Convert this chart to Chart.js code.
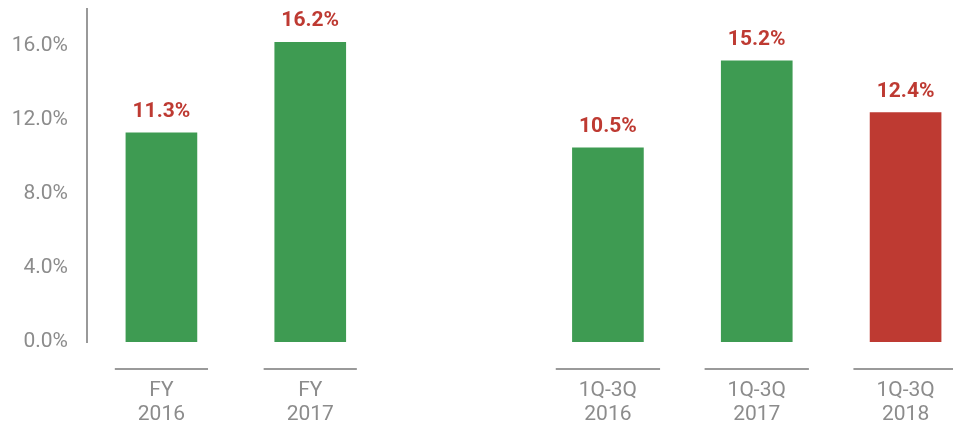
<!DOCTYPE html>
<html>
<head>
<meta charset="utf-8">
<script src="https://cdn.jsdelivr.net/npm/chart.js@4"></script>
<style>
  html, body { margin: 0; padding: 0; background: #fff; overflow: hidden; }
  #wrap { width: 980px; height: 422px; }
</style>
</head>
<body>
<div id="wrap"><canvas id="chart" width="980" height="422"></canvas></div>
<script>
// Categories (blank slot is the gap between the two groups)
const categories = [['FY', '2016'], ['FY', '2017'], '', ['1Q-3Q', '2016'], ['1Q-3Q', '2017'], ['1Q-3Q', '2018']];
const growth = [11.3, 16.2, null, 10.5, 15.2, 12.4];
const yTicks = [0, 4, 8, 12, 16];

const GREEN = '#3e9b52';
const RED = '#be3a32';
const GRAY = '#8c8c8c';
const FONT = 'Roboto, "Liberation Sans", sans-serif';

// Highlight the latest period in red
const barColors = growth.map((v, i) => i === growth.length - 1 ? RED : GREEN);

// Draws the value labels above the bars and the short rules above the category labels
const annotations = {
    id: 'annotations',
    afterDatasetsDraw(chart) {
        const ctx = chart.ctx;
        const meta = chart.getDatasetMeta(0);
        ctx.save();
        ctx.font = 'bold 21px ' + FONT;
        ctx.fillStyle = RED;
        ctx.textAlign = 'center';
        ctx.textBaseline = 'alphabetic';
        meta.data.forEach((bar, i) => {
            if (growth[i] === null) return;
            ctx.fillText(growth[i].toFixed(1) + '%', bar.x, bar.y - 16);
        });

        const xScale = chart.scales.x;
        ctx.font = '21px ' + FONT;
        ctx.strokeStyle = '#9a9a9a';
        ctx.lineWidth = 2;
        categories.forEach((label, i) => {
            if (!label) return;
            const w = Math.max(...label.map(s => ctx.measureText(s).width)) + 46;
            const cx = xScale.getPixelForValue(i);
            const y = chart.chartArea.bottom + 27;
            ctx.beginPath();
            ctx.moveTo(cx - w / 2, y);
            ctx.lineTo(cx + w / 2, y);
            ctx.stroke();
        });
        ctx.restore();
    }
};

new Chart(document.getElementById('chart'), {
    type: 'bar',
    data: {
        labels: categories,
        datasets: [{
            data: growth,
            backgroundColor: barColors,
            barThickness: 71
        }]
    },
    options: {
        responsive: false,
        animation: false,
        layout: { padding: { top: 9, right: 0, left: 0, bottom: 0 } },
        plugins: {
            legend: { display: false },
            tooltip: { enabled: false }
        },
        scales: {
            x: {
                grid: { display: false, drawTicks: false },
                border: { display: false },
                ticks: {
                    color: GRAY,
                    font: { family: FONT, size: 21, lineHeight: 1.15 },
                    padding: 37,
                    maxRotation: 0,
                    autoSkip: false
                },
                afterFit(scale) {
                    scale.height = 80;
                    scale.paddingLeft = 0;
                    scale.paddingRight = 0;
                }
            },
            y: {
                min: 0,
                max: 18,
                grid: { display: false, drawTicks: false },
                border: { display: true, color: '#999999', width: 2 },
                ticks: {
                    color: GRAY,
                    font: { family: FONT, size: 21 },
                    padding: 19,
                    callback: v => v.toFixed(1) + '%'
                },
                afterBuildTicks(scale) {
                    scale.ticks = yTicks.map(v => ({ value: v }));
                },
                afterFit(scale) {
                    scale.width = 87;
                    scale.paddingTop = 0;
                    scale.paddingBottom = 0;
                }
            }
        }
    },
    plugins: [annotations]
});
</script>
</body>
</html>
